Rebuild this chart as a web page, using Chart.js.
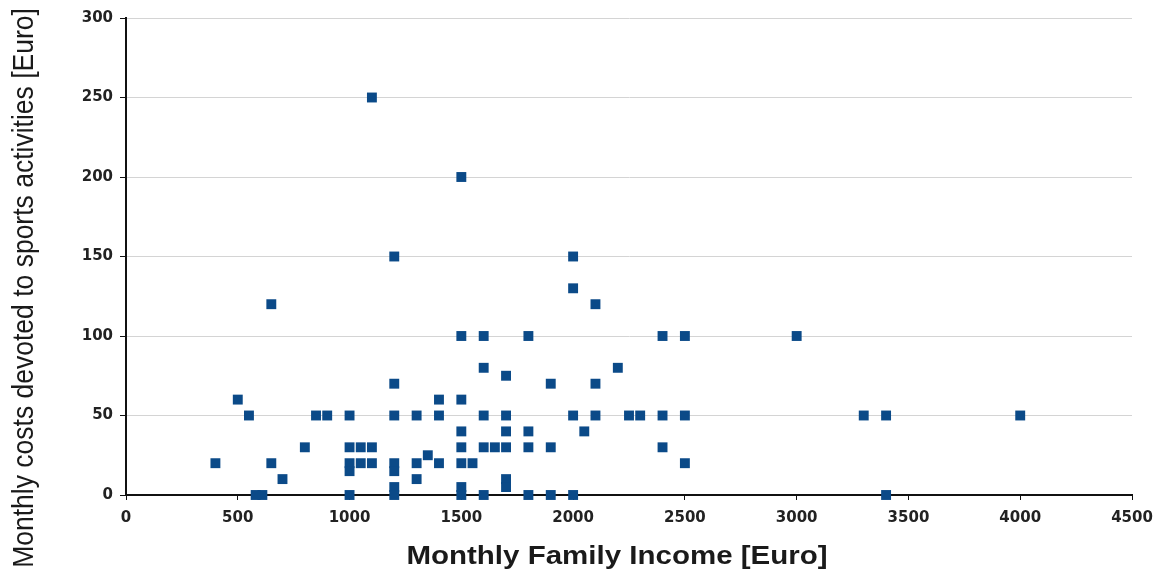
<!DOCTYPE html>
<html>
<head>
<meta charset="utf-8">
<script src="https://cdn.jsdelivr.net/npm/chart.js@4.4.0/dist/chart.umd.min.js"></script>
<style>
  html, body { margin: 0; padding: 0; background: #fff; }
  #wrap { width: 1168px; height: 575px; }
</style>
</head>
<body>
<div id="wrap"><canvas id="scatter"></canvas></div>
<script>
// monthly family income [Euro]
var income = [400, 500, 550, 580, 610, 650, 650, 700, 800, 850, 900,
  1000, 1000, 1000, 1000, 1000, 1050, 1050, 1100, 1100, 1100,
  1200, 1200, 1200, 1200, 1200, 1200, 1200, 1300, 1300, 1300, 1350,
  1400, 1400, 1400, 1500, 1500, 1500, 1500, 1500, 1500, 1500, 1500, 1550,
  1600, 1600, 1600, 1600, 1600, 1650, 1700, 1700, 1700, 1700, 1700, 1700,
  1800, 1800, 1800, 1800, 1900, 1900, 1900, 2000, 2000, 2000, 2000, 2050,
  2100, 2100, 2100, 2200, 2250, 2300, 2400, 2400, 2400, 2500, 2500, 2500,
  3000, 3300, 3400, 3400, 4000]
// monthly costs devoted to sports [Euro]
var costs = [20, 60, 50, 0, 0, 120, 20, 10, 30, 50, 50,
  50, 30, 20, 15, 0, 30, 20, 250, 30, 20,
  150, 70, 50, 20, 15, 5, 0, 50, 20, 10, 25,
  60, 50, 20, 200, 100, 60, 40, 30, 20, 5, 0, 20,
  100, 80, 50, 30, 0, 30, 75, 50, 40, 30, 10, 5,
  100, 40, 30, 0, 70, 30, 0, 150, 130, 50, 0, 40,
  120, 70, 50, 80, 50, 50, 100, 50, 30, 100, 50, 20,
  100, 50, 50, 0, 50]
var xTitle = 'Monthly Family Income [Euro]'
var yTitle = 'Monthly costs devoted to sports activities [Euro]'

var points = income.map(function(v, i){ return {x: v, y: costs[i]} })

var tickFont = { family: '"DejaVu Sans", sans-serif', size: 15, weight: 'bold' }

// axis titles drawn by hand so they sit where the original has them
var axisTitles = {
  id: 'axisTitles',
  afterDraw: function(chart){
    var c = chart.ctx
    c.save()
    c.fillStyle = '#1a1a1a'
    c.textAlign = 'center'
    c.textBaseline = 'middle'
    c.font = 'bold 25px "Liberation Sans", Arial, sans-serif'
    c.save()
    c.translate(617, 557)
    c.scale(1.18, 1)
    c.fillText(xTitle, 0, 0)
    c.restore()
    c.translate(25, 288)
    c.rotate(-Math.PI / 2)
    c.scale(1, 1.12)
    c.font = '26.5px "Liberation Sans", Arial, sans-serif'
    c.fillText(yTitle, 0, 0)
    c.restore()
  }
}

var ctx = document.getElementById('scatter')
var chartScatter = new Chart(ctx, {
  type: 'scatter',
  data: {
    datasets: [{
      data: points,
      pointStyle: 'rect',
      radius: 7,
      hoverRadius: 7,
      borderWidth: 0,
      backgroundColor: '#0b4a88',
      borderColor: '#0b4a88',
      clip: false
    }]
  },
  options: {
    responsive: true,
    maintainAspectRatio: false,
    animation: false,
    layout: { padding: { top: 18, right: 36, left: 0, bottom: 0 } },
    plugins: {
      legend: { display: false },
      tooltip: { enabled: false }
    },
    scales: {
      x: {
        type: 'linear',
        min: 0,
        max: 4500,
        afterFit: function(scale){ scale.height = 80 },
        border: { color: '#111', width: 2 },
        grid: { drawOnChartArea: false, drawTicks: true, tickLength: 5, tickColor: '#111' },
        ticks: {
          stepSize: 500,
          padding: 9,
          color: '#222',
          font: tickFont,
          callback: function(value){ return String(value) }
        }
      },
      y: {
        min: 0,
        max: 300,
        afterFit: function(scale){ scale.width = 126 },
        border: { color: '#111', width: 2 },
        grid: { color: '#d4d4d4', lineWidth: 1, drawTicks: true, tickLength: 6, tickColor: '#111' },
        ticks: {
          stepSize: 50,
          padding: 7,
          color: '#222',
          font: tickFont
        }
      }
    }
  },
  plugins: [axisTitles]
})
</script>
</body>
</html>
